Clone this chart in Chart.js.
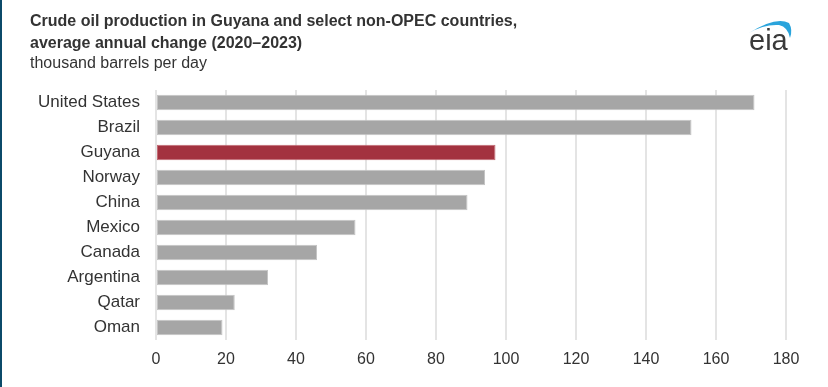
<!DOCTYPE html>
<html>
<head>
<meta charset="utf-8">
<script src="https://cdn.jsdelivr.net/npm/chart.js@4"></script>
<style>
    html, body { margin: 0; padding: 0; background: #ffffff; }
    #wrap { position: relative; width: 828px; height: 387px; }
    #wrap:before { content: ""; position: absolute; left: 0; top: 0; width: 2px; height: 387px; background: #0b4a69; }
</style>
</head>
<body>
<div id="wrap">
    <canvas id="oilChart" width="828" height="387"></canvas>
</div>
<script>
const countries = ['United States', 'Brazil', 'Guyana', 'Norway', 'China', 'Mexico', 'Canada', 'Argentina', 'Qatar', 'Oman'];
const avgChange = [171, 153, 97, 94, 89, 57, 46, 32, 22.5, 19];
const xTicks = [0, 20, 40, 60, 80, 100, 120, 140, 160, 180];

const titleLines = ['Crude oil production in Guyana and select non-OPEC countries,', 'average annual change (2020\u20132023)'];
const unitLine = 'thousand barrels per day';
const highlight = 'Guyana';

const fontFamily = '"Liberation Sans", Arial, sans-serif';

// Title, units line and eia logo
const headerPlugin = {
    id: 'header',
    afterDraw(chart) {
        const ctx = chart.ctx;
        ctx.save();
        ctx.fillStyle = '#333333';
        ctx.textBaseline = 'alphabetic';
        ctx.textAlign = 'left';
        ctx.font = 'bold 16px ' + fontFamily;
        ctx.fillText(titleLines[0], 30, 26);
        ctx.fillText(titleLines[1], 30, 48);
        ctx.font = '16px ' + fontFamily;
        ctx.fillText(unitLine, 30, 68);

        // logo swoosh
        ctx.fillStyle = '#2aa4dc';
        ctx.beginPath();
        ctx.moveTo(749, 33);
        ctx.quadraticCurveTo(776, 16, 789, 23);
        ctx.quadraticCurveTo(793, 30, 790, 38);
        ctx.quadraticCurveTo(788, 27, 779, 25);
        ctx.quadraticCurveTo(764, 24, 749, 33);
        ctx.fill();

        ctx.fillStyle = '#3a3a3a';
        ctx.font = '29px ' + fontFamily;
        ctx.fillText('eia', 749, 50);
        ctx.restore();
    }
};

function barColors(fill) {
    return countries.map(c => c === highlight ? fill[1] : fill[0]);
}

function initOilChart() {
    const ctx = document.getElementById('oilChart').getContext('2d');

    new Chart(ctx, {
        type: 'bar',
        data: {
            labels: countries,
            datasets: [{
                data: avgChange,
                backgroundColor: barColors(['#a6a6a6', '#a3323f']),
                borderColor: barColors(['#c4c4c4', '#c26a74']),
                borderWidth: 1,
                borderSkipped: false,
                categoryPercentage: 0.62,
                barPercentage: 1
            }]
        },
        options: {
            indexAxis: 'y',
            responsive: false,
            animation: false,
            layout: { padding: { left: 0, right: 42, top: 90, bottom: 0 } },
            plugins: {
                legend: { display: false },
                tooltip: { enabled: false }
            },
            scales: {
                x: {
                    min: 0,
                    max: 180,
                    afterBuildTicks: scale => { scale.ticks = xTicks.map(v => ({ value: v })); },
                    afterFit: scale => { scale.height = 47; },
                    border: { display: false },
                    grid: { color: '#e4e4e4', lineWidth: 2, drawTicks: false },
                    ticks: { color: '#333333', padding: 10, font: { family: fontFamily, size: 16 } }
                },
                y: {
                    afterFit: scale => { scale.width = 156; },
                    border: { display: false },
                    grid: { display: false, drawTicks: false },
                    ticks: { color: '#333333', padding: 16, font: { family: fontFamily, size: 17 } }
                }
            }
        },
        plugins: [headerPlugin]
    });
}

document.addEventListener('DOMContentLoaded', () => {
    initOilChart();
});
</script>
</body>
</html>
